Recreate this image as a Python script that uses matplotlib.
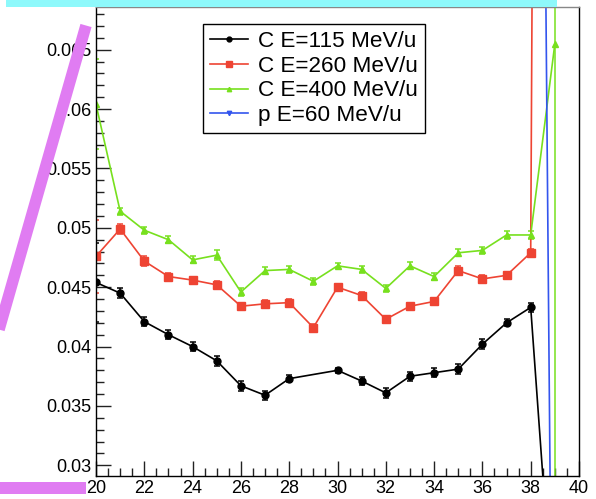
import numpy as np
import matplotlib
matplotlib.use("Agg")
import matplotlib.pyplot as plt
from matplotlib.ticker import MultipleLocator, FuncFormatter
from matplotlib.lines import Line2D
from matplotlib.patches import Rectangle

plt.rcParams['font.family'] = ['Liberation Sans', 'DejaVu Sans']

# depth bins
x_c115 = [20, 21, 22, 23, 24, 25, 26, 27, 28, 30, 31, 32, 33, 34, 35, 36, 37, 38, 39]
y_c115 = [0.0454, 0.0445, 0.0421, 0.0410, 0.0400, 0.0388, 0.0367, 0.0359, 0.0373,
          0.0380, 0.0371, 0.0361, 0.0375, 0.0378, 0.0381, 0.0402, 0.0420, 0.0433, 0.015]
e_c115 = [0.0033, 0.0004, 0.0004, 0.0004, 0.0004, 0.0004, 0.0004, 0.0004, 0.0003,
          0.0002, 0.0003, 0.0004, 0.0004, 0.0004, 0.0004, 0.0004, 0.0003, 0.0004, 0.0005]

x_c260 = list(range(20, 40))
y_c260 = [0.0476, 0.0499, 0.0472, 0.0459, 0.0456, 0.0452, 0.0434, 0.0436, 0.0437, 0.0416,
          0.0450, 0.0443, 0.0423, 0.0434, 0.0438, 0.0464, 0.0457, 0.0460, 0.0479, 0.43]
e_c260 = [0.0031, 0.0004, 0.0004, 0.0003, 0.0003, 0.0003, 0.0003, 0.0003, 0.0003, 0.0003,
          0.0003, 0.0003, 0.0003, 0.0003, 0.0003, 0.0004, 0.0003, 0.0003, 0.0003, 0.0005]

x_c400 = list(range(20, 40))
y_c400 = [0.0604, 0.0514, 0.0498, 0.0490, 0.0473, 0.0477, 0.0446, 0.0464, 0.0465, 0.0455,
          0.0468, 0.0465, 0.0449, 0.0468, 0.0459, 0.0479, 0.0481, 0.0494, 0.0494, 0.0655]
e_c400 = [0.0038, 0.0003, 0.0003, 0.0003, 0.0003, 0.0004, 0.0003, 0.0003, 0.0003, 0.0003,
          0.0002, 0.0003, 0.0003, 0.0003, 0.0003, 0.0003, 0.0003, 0.0003, 0.0003, 0.1]

x_p60 = [38, 39]
y_p60 = [0.215, -0.017]
e_p60 = [0.0005, 0.0005]

labels = ["C E=115 MeV/u", "C E=260 MeV/u", "C E=400 MeV/u", "p E=60 MeV/u"]
colors = ["black", "#ee4433", "#77e01e", "#3355ee"]
markers = ["o", "s", "^", "v"]
msizes = [5, 5.5, 4.5, 4.5]

W, H = 596, 499
fig = plt.figure(figsize=(W / 100, H / 100), dpi=100)
ax = fig.add_axes([96 / W, 1 - 476 / H, (579 - 96) / W, (476 - 7) / H])

series = [(x_c115, y_c115, e_c115), (x_c260, y_c260, e_c260),
          (x_c400, y_c400, e_c400), (x_p60, y_p60, e_p60)]
for (xs, ys, es), c, m, ms in zip(series, colors, markers, msizes):
    ax.errorbar(xs, ys, yerr=es, color=c, marker=m, markersize=ms, lw=1.2,
                elinewidth=1.1, capsize=2, capthick=1.1)

ax.set_xlim(20, 40)
ax.set_ylim(0.0291, 0.0686)
ax.xaxis.set_major_locator(MultipleLocator(2))
ax.xaxis.set_minor_locator(MultipleLocator(0.5))
ax.yaxis.set_major_locator(MultipleLocator(0.005))
ax.yaxis.set_minor_locator(MultipleLocator(0.001))
ax.yaxis.set_major_formatter(FuncFormatter(lambda v, p: "%g" % round(v, 4)))
ax.tick_params(which="both", direction="in", top=False, right=False,
               labelsize=13, color="#222222", width=1)
ax.tick_params(which="major", length=10.5, pad=3)
ax.tick_params(which="minor", length=5.8)
ax.tick_params(axis="x", pad=3)
ax.spines["top"].set_color("#888888")
for s in ax.spines.values():
    s.set_linewidth(1)

handles = [Line2D([], [], color=c, marker=m, markersize=ms * 0.7, lw=1.2)
           for c, m, ms in zip(colors, markers, msizes)]
leg = ax.legend(handles, labels, loc="upper left", bbox_to_anchor=(0.2215, 0.9638),
                borderaxespad=0, fontsize=16.2, handlelength=1.7, handletextpad=0.45,
                borderpad=0.3, labelspacing=0.17, fancybox=False, framealpha=1,
                edgecolor="black")
leg.get_frame().set_linewidth(1)

# overlay marks on the picture
fig.add_artist(Rectangle((6 / W, 1 - 6.7 / H), (557 - 6) / W, 6.7 / H,
                         transform=fig.transFigure, color="#8ef9fb", lw=0, zorder=10))
fig.add_artist(Rectangle((0, 1 - 494 / H), 86 / W, 12 / H,
                         transform=fig.transFigure, color="#e07cf2", lw=0, zorder=10))
fig.add_artist(Line2D([86 / W, -10 / W], [1 - 25.5 / H, 1 - 361 / H],
                      transform=fig.transFigure, color="#e07cf2", lw=8.3,
                      solid_capstyle="butt", zorder=10))

fig.savefig("out.png", dpi=100)
